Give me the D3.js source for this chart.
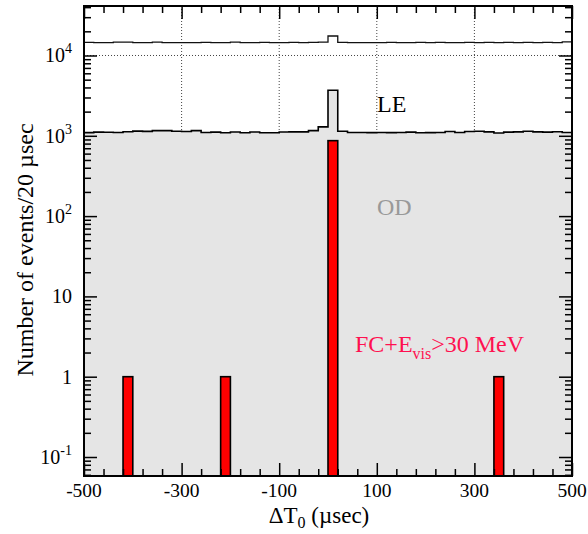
<!DOCTYPE html>
<html><head><meta charset="utf-8">
<script src="https://cdn.jsdelivr.net/npm/d3@7"></script>
<style>html,body{margin:0;padding:0;background:#fff;} svg{display:block;}</style>
</head><body>
<svg id="c" width="588" height="534"></svg>
<script>
// ---- data ----
const binWidth = 20;
const binStarts = [-500,-480,-460,-440,-420,-400,-380,-360,-340,-320,-300,-280,-260,-240,-220,-200,-180,-160,-140,-120,-100,-80,-60,-40,-20,0,20,40,60,80,100,120,140,160,180,200,220,240,260,280,300,320,340,360,380,400,420,440,460,480];
const totalCounts = [14600,14450,14500,14700,14700,14500,14450,14700,14500,14450,14500,14450,14600,14500,14450,14700,14450,14500,14600,14450,14500,14600,14450,14600,14700,17500,14600,14500,14500,14450,14500,14600,14450,14500,14600,14450,14600,14500,14450,14600,14500,14600,14450,14600,14500,14600,14450,14600,14500,14800];
const leCounts = [1095,1110,1105,1100,1125,1145,1135,1160,1160,1140,1130,1160,1100,1110,1090,1115,1090,1115,1090,1090,1115,1120,1120,1160,1290,3690,1140,1100,1100,1095,1100,1095,1100,1110,1090,1095,1100,1130,1100,1130,1140,1120,1085,1110,1120,1140,1120,1110,1125,1100];
const fcBinStarts = [-420, -220, 0, 340];
const fcCounts = [1, 1, 870, 1];
const xTickValues = [-500, -300, -100, 100, 300, 500];
const xTickLabels = ["-500", "-300", "-100", "100", "300", "500"];
const yTickValues = [0.1, 1, 10, 100, 1000, 10000];
const yTickBase = ["10", "1", "10", "10", "10", "10"];
const yTickExp = ["-1", "", "", "2", "3", "4"];
const xGridValues = [-300, -100, 100, 300];

// ---- layout ----
const L = 84, R = 572, T = 6, B = 476;
const FONT = "'Liberation Serif','Times New Roman',Times,serif";
const svg = d3.select("#c");
const x = d3.scaleLinear().domain([-500, 500]).range([L, R]);
const y = d3.scaleLog().domain([0.058, 41340]).range([B, T]);

const xMinor = d3.range(-500, 501, 40).filter(v => !xTickValues.includes(v));
const yMinor = [];
for (let d = -2; d <= 4; d++) for (let k = 2; k <= 9; k++) {
  const v = k * Math.pow(10, d);
  if (v > y.domain()[0] && v < y.domain()[1]) yMinor.push(v);
}

svg.append("clipPath").attr("id", "pc").append("rect")
  .attr("x", L).attr("y", T).attr("width", R - L).attr("height", B - T);
const g = svg.append("g").attr("clip-path", "url(#pc)");

// grid
g.selectAll("line.vg").data(xGridValues).enter().append("line")
  .attr("x1", d => x(d)).attr("x2", d => x(d)).attr("y1", T).attr("y2", B)
  .attr("stroke", "#444").attr("stroke-width", 1).attr("stroke-dasharray", "1,2");
g.selectAll("line.hg").data(yTickValues).enter().append("line")
  .attr("x1", L).attr("x2", R).attr("y1", d => y(d)).attr("y2", d => y(d))
  .attr("stroke", "#444").attr("stroke-width", 1).attr("stroke-dasharray", "1,2");

// step helpers
function stepPts(counts) {
  const pts = binStarts.map((s, i) => [s, counts[i]]);
  pts.push([binStarts[binStarts.length - 1] + binWidth, counts[counts.length - 1]]);
  return pts;
}
const line = d3.line().curve(d3.curveStepAfter).x(d => x(d[0])).y(d => y(d[1]));
const area = d3.area().curve(d3.curveStepAfter).x(d => x(d[0])).y0(B).y1(d => y(d[1]));

// LE filled
g.append("path").attr("d", area(stepPts(leCounts))).attr("fill", "#e5e5e5").attr("stroke", "none");
g.append("path").attr("d", line(stepPts(leCounts))).attr("fill", "none").attr("stroke", "#000").attr("stroke-width", 1.6);
// total
g.append("path").attr("d", line(stepPts(totalCounts))).attr("fill", "none").attr("stroke", "#111").attr("stroke-width", 1.3);

// FC bars
g.selectAll("rect.fc").data(fcBinStarts).enter().append("rect")
  .attr("x", d => x(d)).attr("width", d => x(d + binWidth) - x(d))
  .attr("y", (d, i) => y(fcCounts[i])).attr("height", (d, i) => B - y(fcCounts[i]))
  .attr("fill", "#ff0000").attr("stroke", "#000").attr("stroke-width", 1.6);

// axes ticks
function styleAxis(sel) {
  sel.select(".domain").remove();
  sel.selectAll("line").attr("stroke", "#000").attr("stroke-width", 1.5);
}
[[d3.axisBottom(x), `translate(0,${B})`], [d3.axisTop(x), `translate(0,${T})`]].forEach(([ax, tr]) => {
  svg.append("g").attr("transform", tr).call(ax.tickValues(xTickValues).tickSize(-13).tickFormat("")).call(styleAxis);
  svg.append("g").attr("transform", tr).call(ax.tickValues(xMinor).tickSize(-7).tickFormat("")).call(styleAxis);
});
[[d3.axisLeft(y), `translate(${L},0)`], [d3.axisRight(y), `translate(${R},0)`]].forEach(([ax, tr]) => {
  svg.append("g").attr("transform", tr).call(ax.tickValues(yTickValues).tickSize(-13).tickFormat("")).call(styleAxis);
  svg.append("g").attr("transform", tr).call(ax.tickValues(yMinor).tickSize(-7).tickFormat("")).call(styleAxis);
});

// frame
svg.append("rect").attr("x", L).attr("y", T).attr("width", R - L).attr("height", B - T)
  .attr("fill", "none").attr("stroke", "#000").attr("stroke-width", 2);

// tick labels
svg.selectAll("text.xt").data(xTickValues).enter().append("text")
  .attr("x", d => x(d)).attr("y", 497).attr("text-anchor", "middle")
  .attr("font-family", FONT).attr("font-size", 19.5).text((d, i) => xTickLabels[i]);
yTickValues.forEach((v, i) => {
  const t = svg.append("text").attr("x", 72).attr("y", y(v) + 7).attr("text-anchor", "end")
    .attr("font-family", FONT).attr("font-size", 20);
  t.append("tspan").text(yTickBase[i]);
  if (yTickExp[i]) t.append("tspan").attr("font-size", 14).attr("dy", -9).text(yTickExp[i]);
});

// axis titles
const xt = svg.append("text").attr("x", 319).attr("y", 523).attr("text-anchor", "middle")
  .attr("font-family", FONT).attr("font-size", 23);
xt.append("tspan").text("\u0394T");
xt.append("tspan").attr("font-size", 16).attr("dy", 5).text("0");
xt.append("tspan").attr("dy", -5).text(" (\u00b5sec)");

svg.append("text").attr("transform", "translate(33,250) rotate(-90)").attr("text-anchor", "middle")
  .attr("font-family", FONT).attr("font-size", 24).text("Number of events/20 \u00b5sec");

// annotations
svg.append("text").attr("x", 377).attr("y", 112).attr("font-family", FONT).attr("font-size", 24)
  .attr("fill", "#000").text("LE");
svg.append("text").attr("x", 377).attr("y", 215).attr("font-family", FONT).attr("font-size", 24)
  .attr("fill", "#999").text("OD");
const fc = svg.append("text").attr("x", 355).attr("y", 352).attr("font-family", FONT).attr("font-size", 24)
  .attr("fill", "#ff1050");
fc.append("tspan").text("FC+E");
fc.append("tspan").attr("font-size", 16).attr("dy", 7).text("vis");
fc.append("tspan").attr("dy", -7).text(">30 MeV");
</script>
</body></html>
